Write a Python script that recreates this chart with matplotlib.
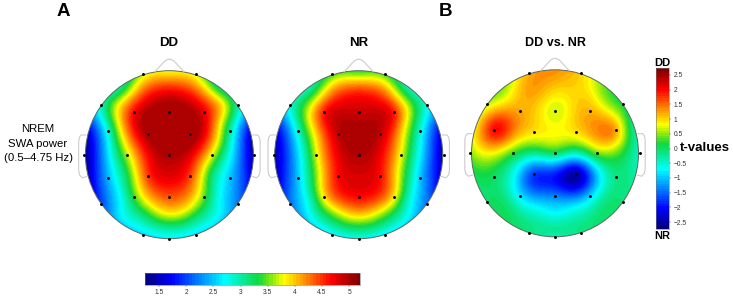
import numpy as np
import matplotlib
matplotlib.use("Agg")
import matplotlib.pyplot as plt
from matplotlib.colors import LinearSegmentedColormap, Normalize
from matplotlib.cm import ScalarMappable
from matplotlib.patches import Circle

plt.rcParams['font.family'] = ['Liberation Sans', 'DejaVu Sans']

# -----------------------------
# Data
# -----------------------------
# electrode positions, head radius = 1
elec_x = [0, -.313, .313, -.817, .817, -1.012, 1.012, -.817, .817, -.313, .313,
          -.417, 0, .417, -.726, -.25, .25, .726, -.504, 0, .504,
          -.726, -.25, .25, .726, -.417, 0, .417]
elec_y = [-1.008, .964, .964, .595, .595, 0, 0, -.587, -.587, -.96, -.96,
          .512, .512, .512, .282, .25, .25, .282, 0, 0, 0,
          -.278, -.25, -.25, -.278, -.508, -.508, -.508]
dd_vals = [2.7, 3.7, 3.7, 3.0, 3.0, 1.3, 1.3, 2.0, 2.2, 2.6, 2.6,
           4.75, 5.2, 4.75, 2.9, 5.1, 5.2, 3.0, 3.7, 5.0, 3.8,
           2.5, 4.6, 4.5, 2.5, 3.5, 4.4, 3.5]
nr_vals = [2.8, 3.4, 3.4, 2.9, 2.8, 1.4, 1.4, 2.2, 2.2, 2.7, 2.7,
           4.7, 4.85, 4.7, 2.9, 4.95, 4.95, 2.9, 3.8, 5.0, 3.8,
           2.5, 4.7, 4.7, 2.5, 4.0, 4.7, 4.0]
diff_vals = [-.4, 1.2, 1.0, .6, .1, .5, -.5, 0.0, -.1, -.1, -.1,
             1.2, .55, 1.2, 2.3, .95, .95, 1.5, .2, .15, .5,
             0.0, -2.0, -2.9, -.1, -.9, -1.3, -.9]

# extra scalp points between the electrodes
mid_x = [0, 0, -.3, .3, -.62, .62, -.5, .5, -.62, .62, -.88, .88,
         -.5, .5, -.55, .55, -.3, .3, 0, 0, -.6, .6, -.6, .6, 0, 0,
         -.45, .45, -.22, .22, -.15, .15, -.85, .85, .62]
mid_y = [.8, .95, .8, .8, .6, .6, .25, .25, 0, 0, 0, 0,
         -.25, -.25, -.55, -.55, -.72, -.72, -.75, -.88, -.75, -.75, .78, .78, .25, -.25,
         .68, .68, -.66, -.66, .512, .512, .3, .3, .32]
dd_mid = [4.55, 3.9, 4.25, 4.25, 3.8, 4.0, 4.3, 4.4, 3.2, 3.2, 1.9, 2.0,
          3.3, 3.1, 2.8, 2.8, 3.2, 3.3, 3.75, 3.0, 2.7, 2.7, 3.0, 3.1, 5.3, 4.8,
          4.1, 4.2, 3.7, 3.8, 5.1, 5.1, 2.2, 2.2, 3.6]
nr_mid = [4.4, 3.5, 4.1, 4.1, 3.5, 3.5, 4.0, 4.0, 3.1, 3.2, 1.9, 2.0,
          3.6, 3.6, 3.0, 3.0, 3.5, 3.5, 3.9, 3.2, 2.7, 2.7, 2.9, 2.9, 5.05, 4.8,
          3.9, 3.9, 4.0, 4.0, 4.85, 4.85, 2.2, 2.2, 3.4]
diff_mid = [1.05, 1.3, 1.35, 1.0, .9, .5, 1.35, 1.4, .5, .5, .8, -.1,
            -.6, -1.0, -.2, -.2, -.4, -.4, -.7, -.1, .1, 0.0, .5, .3, .85, -2.0,
            1.1, .9, -.6, -.6, .85, .85, 1.5, .3, 1.5]

# highest value shown in each map
power_peak = 5.0
t_peak = 2.73

power_range = (1.24, 5.2)
power_ticks = [1.5, 2, 2.5, 3, 3.5, 4, 4.5, 5]
t_range = (-2.73, 2.73)
t_ticks = [-2.5, -2, -1.5, -1, -0.5, 0, 0.5, 1, 1.5, 2, 2.5]

W, H = 733, 297

cmap = LinearSegmentedColormap.from_list("eeg", [
    (0.0, "#00007f"), (0.12, "#0000ff"), (0.37, "#00ffff"), (0.53, "#10d840"),
    (0.585, "#80e810"), (0.65, "#ffff00"), (0.87, "#ff0000"), (1.0, "#7f0000")], N=64)


# -----------------------------
# Biharmonic spline on the scalp
# -----------------------------
def interpolate(vals, mids, n=240, lim=1.2, sigma=.07):
    xs = np.array(elec_x + mid_x)
    ys = np.array(elec_y + mid_y)
    v = np.array(vals + mids, dtype=float)

    def green(d):
        out = np.zeros_like(d)
        m = d > 0
        out[m] = d[m] ** 2 * (np.log(d[m]) - 1)
        return out

    d = np.hypot(xs[:, None] - xs[None, :], ys[:, None] - ys[None, :])
    w = np.linalg.solve(green(d), v)
    axis = np.linspace(-lim, lim, n)
    gx, gy = np.meshgrid(axis, axis)
    dg = np.hypot(gx[..., None] - xs, gy[..., None] - ys)
    z = (green(dg) * w).sum(axis=-1)

    # light smoothing, the spline rings around close points
    step = axis[1] - axis[0]
    half = int(3 * sigma / step)
    k = np.exp(-0.5 * (np.arange(-half, half + 1) * step / sigma) ** 2)
    k /= k.sum()
    z = np.pad(z, half, mode='edge')
    z = np.apply_along_axis(lambda a: np.convolve(a, k, mode='same'), 0, z)
    z = np.apply_along_axis(lambda a: np.convolve(a, k, mode='same'), 1, z)
    return z[half:-half, half:-half], lim


def px_axes(fig, x0, y0, x1, y1):
    return fig.add_axes([x0 / W, 1 - y1 / H, (x1 - x0) / W, (y1 - y0) / H])


def draw_head(fig, cx, cy, r, vals, mids, vrange, peak):
    pad = 1.25
    ax = px_axes(fig, cx - pad * r, cy - pad * r, cx + pad * r, cy + pad * r)
    z, lim = interpolate(vals, mids)
    im = ax.imshow(np.minimum(z, peak), extent=(-lim, lim, -lim, lim), origin='lower', cmap=cmap,
                   vmin=vrange[0], vmax=vrange[1], interpolation='bilinear')
    clip = Circle((0, 0), 1, transform=ax.transData)
    im.set_clip_path(clip)
    ax.set_xlim(-pad, pad)
    ax.set_ylim(-pad, pad)
    ax.axis('off')
    ax.add_patch(Circle((0, 0), 1, fill=False, ec='#5a6a5a', lw=0.7))

    # nose and ears
    grey = '#cccccc'
    ax.plot([-.17, -.05, 0, .05, .17], [.99, 1.12, 1.14, 1.12, .99], color=grey, lw=0.8)
    for s in (-1, 1):
        ax.plot(s * np.array([.995, 1.05, 1.07, 1.08, 1.08, 1.07, 1.04, .985]),
                [.235, .235, .21, .16, -.19, -.24, -.275, -.26], color=grey, lw=0.8)
    ax.scatter(elec_x, elec_y, s=4.5, c='black', linewidths=0, zorder=5, clip_on=False)


def draw_bar(fig, box, vrange, ticks, orientation):
    cax = px_axes(fig, *box)
    sm = ScalarMappable(Normalize(*vrange), cmap)
    cb = fig.colorbar(sm, cax=cax, orientation=orientation, ticks=ticks)
    cb.outline.set_linewidth(0.4)
    cb.outline.set_edgecolor('#777777')
    cb.ax.tick_params(labelsize=4.8, length=1.5, width=0.3, pad=1.5, colors='#333333')
    cb.set_ticklabels([f"{t:g}".replace('-', '\u2212') for t in ticks])
    return cb


# -----------------------------
# Figure
# -----------------------------
fig = plt.figure(figsize=(W / 100, H / 100), dpi=100)

draw_head(fig, 169.4, 154.7, 84, dd_vals, dd_mid, power_range, power_peak)
draw_head(fig, 358.7, 154.7, 84, nr_vals, nr_mid, power_range, power_peak)
draw_head(fig, 555, 153.3, 83.5, diff_vals, diff_mid, t_range, t_peak)

draw_bar(fig, (145, 272.5, 360, 285), power_range, power_ticks, 'horizontal')
draw_bar(fig, (655.7, 68, 669.3, 229), t_range, t_ticks, 'vertical')


def label(x, y, s, size, weight='normal'):
    fig.text(x / W, 1 - y / H, s, fontsize=size, fontweight=weight, ha='center', va='center')


label(63, 12, "A", 13.5, 'bold')
label(446, 12, "B", 13.5, 'bold')
label(169, 43, "DD", 9.5, 'bold')
label(359, 43, "NR", 9.5, 'bold')
label(555, 43, "DD vs. NR", 9, 'bold')
label(38, 129, "NREM", 8.2)
label(38, 144, "SWA power", 8.2)
label(38, 158, "(0.5\u20134.75 Hz)", 8.2)
label(662, 63, "DD", 8, 'bold')
label(662, 236, "NR", 8, 'bold')
label(705, 148, "t-values", 9.5, 'bold')

fig.savefig("out.png", dpi=100)
